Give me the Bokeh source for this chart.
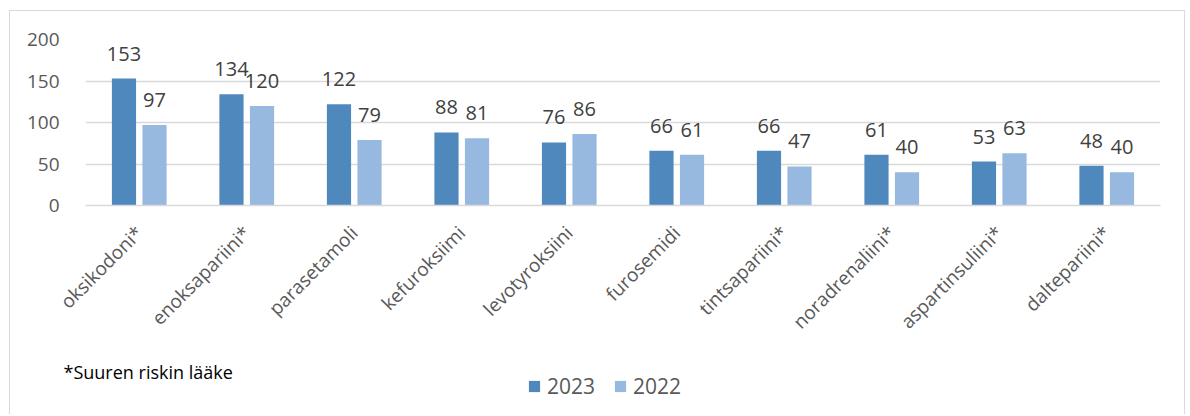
import math
from bokeh.plotting import figure
from bokeh.models import ColumnDataSource, LabelSet, Label, Legend, LegendItem, FactorRange, Range1d
from bokeh.transform import dodge
from bokeh.core.properties import value
from bokeh.embed import file_html
from bokeh.resources import INLINE

drugs = ["oksikodoni*", "enoksapariini*", "parasetamoli", "kefuroksiimi", "levotyroksiini",
         "furosemidi", "tintsapariini*", "noradrenaliini*", "aspartinsuliini*", "daltepariini*"]
v2023 = [153, 134, 122, 88, 76, 66, 66, 61, 53, 48]
v2022 = [97, 120, 79, 81, 86, 61, 47, 40, 63, 40]
y_ticks = [0, 50, 100, 150, 200]
series = ["2023", "2022"]
footnote = "*Suuren riskin lääke"

C23 = "#4F88BD"
C22 = "#97B9E0"
FONT = "Open Sans"
W = 1176
BORDER = "1px solid #d9d9d9"

src = ColumnDataSource(dict(drug=drugs, v2023=v2023, v2022=v2022,
                            t2023=[str(v) for v in v2023], t2022=[str(v) for v in v2022]))

p = figure(width=W, height=340, x_range=FactorRange(factors=drugs, range_padding=0),
           y_range=(0, 200), output_backend="svg", toolbar_location=None,
           min_border_left=75, min_border_right=26, min_border_top=28, min_border_bottom=146)
p.margin = (10, 0, 0, 9)
p.styles = {"border-left": BORDER, "border-top": BORDER, "border-right": BORDER}
p.outline_line_color = None
p.background_fill_color = "white"
p.border_fill_color = "white"

off = 0.142
w = 0.225
r23 = p.vbar(x=dodge("drug", -off, range=p.x_range), top="v2023", width=w, source=src,
             fill_color=C23, line_color=None)
r22 = p.vbar(x=dodge("drug", off, range=p.x_range), top="v2022", width=w, source=src,
             fill_color=C22, line_color=None)

for col, o in (("2023", -off), ("2022", off)):
    ls = LabelSet(x=dodge("drug", o, range=p.x_range), y="v" + col, text="t" + col, source=src,
                  y_offset=25, text_align="center", text_baseline="middle",
                  text_font=value(FONT), text_font_size="20px", text_color="#404040")
    p.add_layout(ls)

p.xgrid.grid_line_color = None
p.ygrid.grid_line_color = "#d9d9d9"
p.ygrid.grid_line_width = 1.5
p.yaxis.ticker = y_ticks
p.yaxis.axis_line_color = None
p.yaxis.major_tick_line_color = None
p.yaxis.minor_tick_line_color = None
p.yaxis.major_label_standoff = 20
p.yaxis.major_label_text_font = FONT
p.yaxis.major_label_text_font_size = "19px"
p.yaxis.major_label_text_color = "#595959"

p.xaxis.axis_line_color = "#d9d9d9"
p.xaxis.axis_line_width = 1.5
p.xaxis.major_tick_line_color = None
p.xaxis.minor_tick_line_color = None
p.xaxis.major_label_orientation = math.pi / 4
p.xaxis.major_label_standoff = 18
p.xaxis.major_label_text_font = FONT
p.xaxis.major_label_text_font_size = "19px"
p.xaxis.major_label_text_color = "#595959"

# bottom strip: footnote + legend
q = figure(width=W, height=64, x_range=Range1d(0, W), y_range=Range1d(0, 64),
           output_backend="svg", toolbar_location=None,
           min_border_left=0, min_border_right=0, min_border_top=0, min_border_bottom=0)
q.margin = (0, 0, 0, 9)
q.styles = {"border-left": BORDER, "border-right": BORDER}
q.axis.visible = False
q.grid.visible = False
q.outline_line_color = None
q.border_fill_color = "white"
swatch = ColumnDataSource(dict(x=[-1000], top=[0]))
d23 = q.vbar(x="x", top="top", width=1, source=swatch, fill_color=C23, line_color=None)
d22 = q.vbar(x="x", top="top", width=1, source=swatch, fill_color=C22, line_color=None)
legend = Legend(items=[LegendItem(label=series[0], renderers=[d23]),
                       LegendItem(label=series[1], renderers=[d22])],
                orientation="horizontal", location=(517, 14),
                border_line_color=None, background_fill_alpha=0,
                glyph_width=14, glyph_height=14, label_standoff=6, spacing=18,
                padding=0, margin=0,
                label_text_font=FONT, label_text_font_size="21px", label_text_color="#595959")
q.add_layout(legend, "center")
q.add_layout(Label(x=53, y=43, text=footnote, text_font=FONT, text_font_size="18px",
                   text_color="#000000", text_baseline="alphabetic"))

open("out.html", "w").write(file_html([p, q], INLINE))
